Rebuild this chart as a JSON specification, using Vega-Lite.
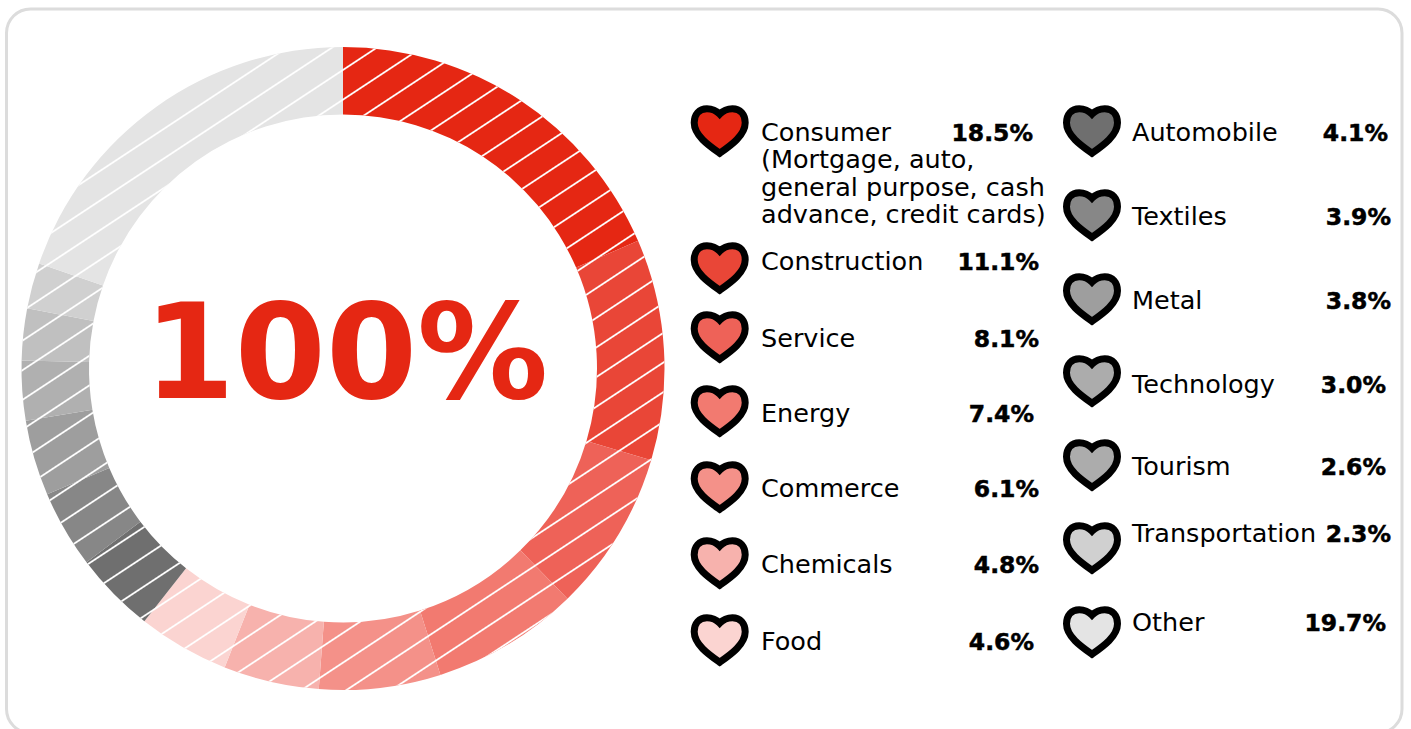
{"$schema":"https://vega.github.io/schema/vega-lite/v6.json","width":1411,"height":729,"padding":0,"autosize":{"type":"fit","contains":"padding"},"background":"#ffffff","view":{"stroke":null},
"datasets":{"sectors":[
{"rank":1,"name":"Consumer","share":18.5,"pct":"18.5%","col":1,"row":1,"label":"Consumer\n(Mortgage, auto,\ngeneral purpose, cash\nadvance, credit cards)"},
{"rank":2,"name":"Construction","share":11.1,"pct":"11.1%","col":1,"row":2,"label":"Construction"},
{"rank":3,"name":"Service","share":8.1,"pct":"8.1%","col":1,"row":3,"label":"Service"},
{"rank":4,"name":"Energy","share":7.4,"pct":"7.4%","col":1,"row":4,"label":"Energy"},
{"rank":5,"name":"Commerce","share":6.1,"pct":"6.1%","col":1,"row":5,"label":"Commerce"},
{"rank":6,"name":"Chemicals","share":4.8,"pct":"4.8%","col":1,"row":6,"label":"Chemicals"},
{"rank":7,"name":"Food","share":4.6,"pct":"4.6%","col":1,"row":7,"label":"Food"},
{"rank":8,"name":"Automobile","share":4.1,"pct":"4.1%","col":2,"row":1,"label":"Automobile"},
{"rank":9,"name":"Textiles","share":3.9,"pct":"3.9%","col":2,"row":2,"label":"Textiles"},
{"rank":10,"name":"Metal","share":3.8,"pct":"3.8%","col":2,"row":3,"label":"Metal"},
{"rank":11,"name":"Technology","share":3.0,"pct":"3.0%","col":2,"row":4,"label":"Technology"},
{"rank":12,"name":"Tourism","share":2.6,"pct":"2.6%","col":2,"row":5,"label":"Tourism"},
{"rank":13,"name":"Transportation","share":2.3,"pct":"2.3%","col":2,"row":6,"label":"Transportation"},
{"rank":14,"name":"Other","share":19.7,"pct":"19.7%","col":2,"row":7,"label":"Other"}
]},
"data":{"name":"sectors"},
"layer":[
{"data":{"values":[{"item":"card"}]},"mark":{"type":"rect","x":6.5,"x2":1402,"y":9,"y2":733,"cornerRadius":24,"fill":"#ffffff","stroke":"#dcdcdc","strokeWidth":3,"clip":true},"encoding":{}},
{"mark":{"type":"arc","x":343,"y":368.5,"radius":321.5,"radius2":254},
 "encoding":{"theta":{"field":"share","type":"quantitative","stack":true},"order":{"field":"rank","type":"quantitative"},
 "color":{"field":"name","type":"nominal","legend":null,"scale":{"domain":["Consumer","Construction","Service","Energy","Commerce","Chemicals","Food","Automobile","Textiles","Metal","Technology","Tourism","Transportation","Other"],"range":["#e52713","#e94637","#ee6258","#f27a70","#f49189","#f7b2ad","#fbd4d1","#6f6f6f","#878787","#9e9e9e","#b0b0b0","#c0c0c0","#d0d0d0","#e4e4e4"]}}}},
{"data":{"values":[{"item":"hatch"}]},"mark":{"type":"arc","x":343,"y":368.5,"radius":321.5,"radius2":254,"theta":0,"theta2":6.2832,
 "fill":{"gradient":"linear","x1":0,"y1":0,"x2":0.7626,"y2":1.1565,"stops":[
 {"offset":0,"color":"rgba(255,255,255,0)"},
 {"offset":0.0242,"color":"rgba(255,255,255,0)"},{"offset":0.0254,"color":"#fff"},{"offset":0.0262,"color":"#fff"},{"offset":0.0274,"color":"rgba(255,255,255,0)"},
 {"offset":0.052,"color":"rgba(255,255,255,0)"},{"offset":0.0532,"color":"#fff"},{"offset":0.054,"color":"#fff"},{"offset":0.0552,"color":"rgba(255,255,255,0)"},
 {"offset":0.0798,"color":"rgba(255,255,255,0)"},{"offset":0.081,"color":"#fff"},{"offset":0.0818,"color":"#fff"},{"offset":0.083,"color":"rgba(255,255,255,0)"},
 {"offset":0.1075,"color":"rgba(255,255,255,0)"},{"offset":0.1087,"color":"#fff"},{"offset":0.1095,"color":"#fff"},{"offset":0.1107,"color":"rgba(255,255,255,0)"},
 {"offset":0.1353,"color":"rgba(255,255,255,0)"},{"offset":0.1365,"color":"#fff"},{"offset":0.1373,"color":"#fff"},{"offset":0.1385,"color":"rgba(255,255,255,0)"},
 {"offset":0.1631,"color":"rgba(255,255,255,0)"},{"offset":0.1643,"color":"#fff"},{"offset":0.1651,"color":"#fff"},{"offset":0.1663,"color":"rgba(255,255,255,0)"},
 {"offset":0.1909,"color":"rgba(255,255,255,0)"},{"offset":0.1921,"color":"#fff"},{"offset":0.1929,"color":"#fff"},{"offset":0.1941,"color":"rgba(255,255,255,0)"},
 {"offset":0.2186,"color":"rgba(255,255,255,0)"},{"offset":0.2198,"color":"#fff"},{"offset":0.2206,"color":"#fff"},{"offset":0.2218,"color":"rgba(255,255,255,0)"},
 {"offset":0.2464,"color":"rgba(255,255,255,0)"},{"offset":0.2476,"color":"#fff"},{"offset":0.2484,"color":"#fff"},{"offset":0.2496,"color":"rgba(255,255,255,0)"},
 {"offset":0.2742,"color":"rgba(255,255,255,0)"},{"offset":0.2754,"color":"#fff"},{"offset":0.2762,"color":"#fff"},{"offset":0.2774,"color":"rgba(255,255,255,0)"},
 {"offset":0.3019,"color":"rgba(255,255,255,0)"},{"offset":0.3031,"color":"#fff"},{"offset":0.3039,"color":"#fff"},{"offset":0.3051,"color":"rgba(255,255,255,0)"},
 {"offset":0.3297,"color":"rgba(255,255,255,0)"},{"offset":0.3309,"color":"#fff"},{"offset":0.3317,"color":"#fff"},{"offset":0.3329,"color":"rgba(255,255,255,0)"},
 {"offset":0.3575,"color":"rgba(255,255,255,0)"},{"offset":0.3587,"color":"#fff"},{"offset":0.3595,"color":"#fff"},{"offset":0.3607,"color":"rgba(255,255,255,0)"},
 {"offset":0.3853,"color":"rgba(255,255,255,0)"},{"offset":0.3865,"color":"#fff"},{"offset":0.3873,"color":"#fff"},{"offset":0.3885,"color":"rgba(255,255,255,0)"},
 {"offset":0.413,"color":"rgba(255,255,255,0)"},{"offset":0.4142,"color":"#fff"},{"offset":0.415,"color":"#fff"},{"offset":0.4162,"color":"rgba(255,255,255,0)"},
 {"offset":0.4408,"color":"rgba(255,255,255,0)"},{"offset":0.442,"color":"#fff"},{"offset":0.4428,"color":"#fff"},{"offset":0.444,"color":"rgba(255,255,255,0)"},
 {"offset":0.4686,"color":"rgba(255,255,255,0)"},{"offset":0.4698,"color":"#fff"},{"offset":0.4706,"color":"#fff"},{"offset":0.4718,"color":"rgba(255,255,255,0)"},
 {"offset":0.4964,"color":"rgba(255,255,255,0)"},{"offset":0.4976,"color":"#fff"},{"offset":0.4984,"color":"#fff"},{"offset":0.4996,"color":"rgba(255,255,255,0)"},
 {"offset":0.5241,"color":"rgba(255,255,255,0)"},{"offset":0.5253,"color":"#fff"},{"offset":0.5261,"color":"#fff"},{"offset":0.5273,"color":"rgba(255,255,255,0)"},
 {"offset":0.5519,"color":"rgba(255,255,255,0)"},{"offset":0.5531,"color":"#fff"},{"offset":0.5539,"color":"#fff"},{"offset":0.5551,"color":"rgba(255,255,255,0)"},
 {"offset":0.5797,"color":"rgba(255,255,255,0)"},{"offset":0.5809,"color":"#fff"},{"offset":0.5817,"color":"#fff"},{"offset":0.5829,"color":"rgba(255,255,255,0)"},
 {"offset":0.6075,"color":"rgba(255,255,255,0)"},{"offset":0.6087,"color":"#fff"},{"offset":0.6095,"color":"#fff"},{"offset":0.6107,"color":"rgba(255,255,255,0)"},
 {"offset":0.6352,"color":"rgba(255,255,255,0)"},{"offset":0.6364,"color":"#fff"},{"offset":0.6372,"color":"#fff"},{"offset":0.6384,"color":"rgba(255,255,255,0)"},
 {"offset":0.663,"color":"rgba(255,255,255,0)"},{"offset":0.6642,"color":"#fff"},{"offset":0.665,"color":"#fff"},{"offset":0.6662,"color":"rgba(255,255,255,0)"},
 {"offset":0.6908,"color":"rgba(255,255,255,0)"},{"offset":0.692,"color":"#fff"},{"offset":0.6928,"color":"#fff"},{"offset":0.694,"color":"rgba(255,255,255,0)"},
 {"offset":0.7185,"color":"rgba(255,255,255,0)"},{"offset":0.7197,"color":"#fff"},{"offset":0.7205,"color":"#fff"},{"offset":0.7217,"color":"rgba(255,255,255,0)"},
 {"offset":0.7463,"color":"rgba(255,255,255,0)"},{"offset":0.7475,"color":"#fff"},{"offset":0.7483,"color":"#fff"},{"offset":0.7495,"color":"rgba(255,255,255,0)"},
 {"offset":0.7741,"color":"rgba(255,255,255,0)"},{"offset":0.7753,"color":"#fff"},{"offset":0.7761,"color":"#fff"},{"offset":0.7773,"color":"rgba(255,255,255,0)"},
 {"offset":0.8019,"color":"rgba(255,255,255,0)"},{"offset":0.8031,"color":"#fff"},{"offset":0.8039,"color":"#fff"},{"offset":0.8051,"color":"rgba(255,255,255,0)"},
 {"offset":0.8296,"color":"rgba(255,255,255,0)"},{"offset":0.8308,"color":"#fff"},{"offset":0.8316,"color":"#fff"},{"offset":0.8328,"color":"rgba(255,255,255,0)"},
 {"offset":0.8574,"color":"rgba(255,255,255,0)"},{"offset":0.8586,"color":"#fff"},{"offset":0.8594,"color":"#fff"},{"offset":0.8606,"color":"rgba(255,255,255,0)"},
 {"offset":0.8852,"color":"rgba(255,255,255,0)"},{"offset":0.8864,"color":"#fff"},{"offset":0.8872,"color":"#fff"},{"offset":0.8884,"color":"rgba(255,255,255,0)"},
 {"offset":0.913,"color":"rgba(255,255,255,0)"},{"offset":0.9142,"color":"#fff"},{"offset":0.915,"color":"#fff"},{"offset":0.9162,"color":"rgba(255,255,255,0)"},
 {"offset":0.9407,"color":"rgba(255,255,255,0)"},{"offset":0.9419,"color":"#fff"},{"offset":0.9427,"color":"#fff"},{"offset":0.9439,"color":"rgba(255,255,255,0)"},
 {"offset":0.9685,"color":"rgba(255,255,255,0)"},{"offset":0.9697,"color":"#fff"},{"offset":0.9705,"color":"#fff"},{"offset":0.9717,"color":"rgba(255,255,255,0)"},
 {"offset":1,"color":"rgba(255,255,255,0)"}]}},"encoding":{}},
{"data":{"values":[{"item":"total"}]},"mark":{"type":"text","text":"100%","x":346,"y":398,"align":"center","baseline":"alphabetic","font":"DejaVu Sans","fontWeight":"bold","fontSize":131,"fill":"#e52713"},"encoding":{}},
{"transform":[{"filter":"datum.col==1"}],"mark":{"type":"point","filled":true,"x":719.7,"shape":"M0,-0.66C0.15,-0.82 0.33,-0.875 0.5,-0.875C0.8,-0.875 1,-0.66 1,-0.32C1,0.18 0.42,0.58 0,0.875C-0.42,0.58 -1,0.18 -1,-0.32C-1,-0.66 -0.8,-0.875 -0.5,-0.875C-0.33,-0.875 -0.15,-0.82 0,-0.66Z","size":2601,"opacity":1,"stroke":"#000000","strokeWidth":7,"strokeJoin":"miter"},
 "encoding":{"y":{"field":"row","type":"quantitative","axis":null,"scale":{"domain":[1,2,3,4,5,6,7],"range":[131,268,337,411,487,563,640],"nice":false,"zero":false}},"color":{"field":"name","type":"nominal","legend":null,"scale":{"domain":["Consumer","Construction","Service","Energy","Commerce","Chemicals","Food"],"range":["#e52713","#e94637","#ee6258","#f27a70","#f49189","#f7b2ad","#fbd4d1"]}}}},
{"transform":[{"filter":"datum.col==2"}],"mark":{"type":"point","filled":true,"x":1092,"shape":"M0,-0.66C0.15,-0.82 0.33,-0.875 0.5,-0.875C0.8,-0.875 1,-0.66 1,-0.32C1,0.18 0.42,0.58 0,0.875C-0.42,0.58 -1,0.18 -1,-0.32C-1,-0.66 -0.8,-0.875 -0.5,-0.875C-0.33,-0.875 -0.15,-0.82 0,-0.66Z","size":2601,"opacity":1,"stroke":"#000000","strokeWidth":7,"strokeJoin":"miter"},
 "encoding":{"y":{"field":"row","type":"quantitative","axis":null,"scale":{"domain":[1,2,3,4,5,6,7],"range":[131,215,299,381,465,548,632],"nice":false,"zero":false}},"color":{"field":"name","type":"nominal","legend":null,"scale":{"domain":["Automobile","Textiles","Metal","Technology","Tourism","Transportation","Other"],"range":["#6f6f6f","#878787","#9e9e9e","#acacac","#acacac","#d0d0d0","#e4e4e4"]}}}},
{"transform":[{"filter":"datum.col==1"}],"mark":{"type":"text","x":761,"align":"left","baseline":"alphabetic","font":"DejaVu Sans","fontSize":25.5,"lineBreak":"\n","lineHeight":27.3,"fill":"#000000"},
 "encoding":{"text":{"field":"label","type":"nominal"},"y":{"field":"row","type":"quantitative","axis":null,"scale":{"domain":[1,2,3,4,5,6,7],"range":[141,270,347,422,497,573,650],"nice":false,"zero":false}}}},
{"transform":[{"filter":"datum.col==2"}],"mark":{"type":"text","x":1132,"align":"left","baseline":"alphabetic","font":"DejaVu Sans","fontSize":25.5,"fill":"#000000"},
 "encoding":{"text":{"field":"label","type":"nominal"},"y":{"field":"row","type":"quantitative","axis":null,"scale":{"domain":[1,2,3,4,5,6,7],"range":[141,225,309,393,475,542,631],"nice":false,"zero":false}}}},
{"transform":[{"filter":"datum.col==1"}],"mark":{"type":"text","align":"right","baseline":"alphabetic","font":"DejaVu Sans","fontWeight":"bold","fontSize":23.5,"fill":"#000000","stroke":"#000000","strokeWidth":0.5},
 "encoding":{"text":{"field":"pct","type":"nominal"},"x":{"field":"row","type":"quantitative","axis":null,"scale":{"domain":[1,2,3,4,5,6,7],"range":[1033,1039,1039,1034,1039,1039,1034],"nice":false,"zero":false}},"y":{"field":"row","type":"quantitative","axis":null,"scale":{"domain":[1,2,3,4,5,6,7],"range":[141,270,347,422,497,573,650],"nice":false,"zero":false}}}},
{"transform":[{"filter":"datum.col==2"}],"mark":{"type":"text","align":"right","baseline":"alphabetic","font":"DejaVu Sans","fontWeight":"bold","fontSize":23.5,"fill":"#000000","stroke":"#000000","strokeWidth":0.5},
 "encoding":{"text":{"field":"pct","type":"nominal"},"x":{"field":"row","type":"quantitative","axis":null,"scale":{"domain":[1,2,3,4,5,6,7],"range":[1388,1391,1391,1386,1386,1391,1386],"nice":false,"zero":false}},"y":{"field":"row","type":"quantitative","axis":null,"scale":{"domain":[1,2,3,4,5,6,7],"range":[141,225,309,393,475,542,631],"nice":false,"zero":false}}}}
],
"resolve":{"scale":{"x":"independent","y":"independent","theta":"independent","color":"independent"}}}
